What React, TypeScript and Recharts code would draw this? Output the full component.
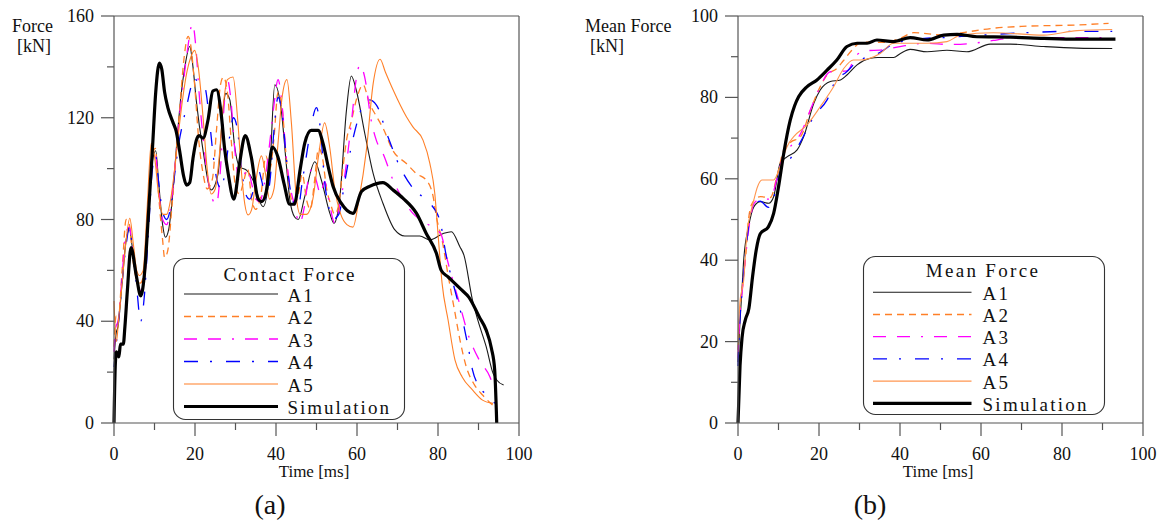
import React from 'react';
import { LineChart, Line, XAxis, YAxis, ReferenceLine } from 'recharts';

type P = [number, number];

// ---------- tick values ----------
const timeTicks = [0, 10, 20, 30, 40, 50, 60, 70, 80, 90, 100];
const forceTicks = [0, 20, 40, 60, 80, 100, 120, 140, 160];
const meanTicks = [0, 10, 20, 30, 40, 50, 60, 70, 80, 90, 100];
const seriesNames = ['A1', 'A2', 'A3', 'A4', 'A5', 'Simulation'];

// ---------- (a) contact force [time ms, force kN] ----------
const forceA1: P[] = [[0,25],[0.5,35],[1,38],[2,55],[3,72],[3.8,76],[4.6,68],[5.5,57],[6.5,52],[7.5,56],[8.5,80],[9.5,103],[10.3,107],[11,95],[12,78],[12.7,73],[13.5,76],[14.5,90],[15.5,110],[16.5,128],[17.5,140],[18.7,148],[19.5,140],[20.3,127],[22,107],[24,91.6],[25.7,98],[26.9,123],[27.6,129.6],[28.6,127],[29.8,108.6],[31,100.7],[32.7,99.4],[34.3,95.5],[36.8,85],[38.4,98],[39.7,133],[41.3,123],[42.6,100.7],[43.4,88],[44.6,81],[45.5,80],[47.1,89],[49.6,102.7],[51.2,95.5],[53.3,82.4],[54.3,78.5],[55.7,87.7],[57.4,123],[58.6,136.4],[59.8,131],[61.9,114],[64,98],[66.4,86.4],[69.3,76],[71.8,73.5],[75.5,73.5],[78,72],[81.3,74.5],[83.3,75.2],[85.4,69.3],[86.4,66],[88.5,48.4],[89.8,40.6],[91.9,30],[93.6,19.5],[94.5,16.9],[96.2,14.9]];
const forceA2: P[] = [[0,30],[0.5,42],[1,40],[2,60],[3,80],[3.8,78],[4.6,65],[5.5,57],[6.5,55],[7.5,60],[8.5,85],[9.5,105],[10.2,108],[11,90],[12,72],[12.5,65],[13.3,68],[14.3,85],[15.3,105],[16.3,125],[17.2,142],[18.3,152],[19,148],[19.8,135],[21,110],[22,98],[23,92],[24.3,96],[25.3,115],[26.3,133],[27,136],[28,130],[29,110],[30,93],[31,90],[32,95],[33,100],[34,88],[35,84],[36.3,90],[37.5,105],[38.5,100],[39.5,112],[40.5,130],[41.5,124],[42.5,105],[43.5,90],[44.5,86],[45.5,90],[46.5,98],[47.5,88],[48.5,84],[49.5,95],[50.5,108],[51.5,104],[52.5,92],[53.5,86],[54.5,82],[55.5,86],[56.5,100],[57.5,112],[58.5,118],[60,128],[61.5,133],[63,126],[65,120],[66.4,116],[68.9,107],[72.2,102],[74.7,98],[77.1,95.5],[78.8,89],[79.6,81],[81,72],[82.5,58],[84,45],[85.5,32],[87,22],[89,15],[91,11],[93.5,7]];
const forceA3: P[] = [[0,28],[0.5,38],[1,40],[2,58],[3,75],[3.8,77],[4.6,68],[5.5,57],[6.5,52],[7.5,56],[8.5,80],[9.5,103],[10.3,105],[11,92],[12,80],[13,78],[14,85],[15,100],[16,118],[17,132],[18,145],[19.4,157],[20.2,148],[21,130],[22,112],[23,98],[24.3,88],[25.3,86],[26.3,100],[27.2,125],[28,135],[28.8,128],[29.8,108],[31,95],[32,97],[33,100],[34,94],[35,88],[36,87],[37,93],[38.3,108],[39.5,125],[40.5,135],[41.5,125],[42.5,105],[43.5,93],[44.5,86],[45.8,78.5],[47,85],[48,96],[49,100],[50,95],[51,90],[52,95],[53,88],[54.5,78.5],[56,88],[57.4,102],[58.6,118],[59.8,135],[60.7,140.8],[61.9,136],[63.5,119],[64.8,111],[66.4,106],[68.9,95.5],[70.5,90.3],[73.8,82.4],[77.1,78.5],[79.6,76],[80.8,74],[82,66],[83.5,57],[85.1,48.2],[87.6,34],[90.2,24.7],[92.8,18.2],[94,13]];
const forceA4: P[] = [[0,22],[0.5,30],[1,38],[2,55],[3,70],[3.8,77],[4.6,68],[5.5,55],[6.6,40],[7.5,50],[8.5,75],[9.5,100],[10.3,105],[11,95],[12,83],[13,80],[14,85],[15,98],[16,110],[17,118],[18,125],[19,132],[19.9,135.5],[21,133],[22.4,132],[23.5,120],[24.5,105],[25.5,95],[26.5,92],[27.5,100],[28.5,112],[29.5,120],[30.5,115],[31.5,100],[32.5,90],[33.5,88],[34.5,92],[35.5,100],[36.5,95],[37.5,88],[38.5,95],[39.5,115],[40.5,128],[41.5,122],[42.5,105],[43.5,92],[44.5,86],[45.5,85],[46.5,95],[47.5,105],[48.5,115],[50,124],[51,115],[52,95],[53,85],[54,80],[55.5,82],[57,95],[58.5,108],[60,118],[61.5,125],[63,127],[64.8,125],[67.3,114],[70.6,100.7],[74.2,91.6],[77.1,87.7],[80.4,80],[82,66],[84.2,52],[85.9,41.7],[87.6,28.6],[88.5,21],[90.2,14.2],[92.8,10.3],[94,7.7]];
const forceA5: P[] = [[0,48],[0.6,32],[1.2,42],[2,55],[3,72],[3.9,80.5],[4.8,70],[5.6,60],[6.3,58],[7.2,60],[8.2,85],[9.2,110],[10,105],[11,90],[12.1,82],[13,82],[14,88],[15,100],[16,115],[17,128],[18,138],[19,144],[19.9,146.5],[20.8,140],[22,120],[23,100],[24,90],[25,92],[26,105],[27,125],[28,135],[29.4,136],[30.5,120],[31.5,98],[32.3,86],[33.1,81.8],[34,84],[35,95],[36.4,105],[37.4,98],[38.4,88],[39.5,92],[40.5,110],[41.5,128],[42.7,135],[43.8,118],[45,89],[46,82],[47.5,82],[49.1,88],[50.5,105],[52,118],[53.3,108],[54.5,92],[56,82],[57.5,78],[59,77],[60.5,88],[62.3,107],[64,133.5],[65.7,143],[67,138],[68.9,131],[72.2,120.4],[73.8,116.4],[76.3,111.2],[78,102],[79.2,90.3],[80,74.5],[81,55],[82.5,40.4],[84.2,24.7],[86,18],[88.5,13],[91,9],[93.6,7.7]];
const forceSim: P[] = [[0,0],[0.3,22],[0.6,28],[1.2,26],[1.6,31],[2.3,31],[2.7,38],[3.3,52],[4.2,69],[5.5,58],[6.6,50],[7.6,60],[8.5,82],[9.5,108],[10.3,130],[11.2,141.5],[11.8,139],[12.5,130],[13.3,124],[14.6,118],[15.3,115],[16.2,107],[17.2,97],[17.9,93.5],[18.7,94.5],[19.5,104],[20.3,111],[21,113],[22,112],[23.2,119],[24.4,130.5],[25.3,131],[26.5,121],[27.3,108],[28.2,98],[29.6,88],[31,102],[32.4,113],[33.9,104.5],[35.6,88],[36.5,87],[37.6,91],[39.1,108.5],[40.5,104.5],[42,94],[43.4,86],[44.5,86],[46,100],[47.1,110],[48.7,115],[50.4,115],[51.6,110],[53,100],[54.1,93],[56.1,86.4],[59,82.4],[61.1,91],[63.1,93],[66.4,94.5],[68.9,91.6],[71.4,88.3],[74.7,82.4],[77.1,74.5],[79.6,66.7],[80.8,60],[82.5,57.4],[85.9,52.2],[87.6,49.5],[90.2,41.7],[91.9,36.5],[93.2,29.3],[94,20.8],[94.4,5],[94.5,0]];

// ---------- (b) mean force [time ms, force kN] ----------
const meanA1: P[] = [[0,15],[0.5,25],[1,33],[1.4,40],[2.6,48.2],[3.9,53.1],[5.5,54.4],[7.6,54],[8.8,55.6],[10.4,63.8],[12.1,65.4],[14.6,67.1],[16.2,70.3],[18.7,78.5],[20.3,81.8],[22.8,83.9],[25.3,84.3],[26.9,85.5],[29.4,88],[32.7,89.6],[34.5,89.8],[38.4,89.8],[40.1,90.8],[42.5,91.8],[46.7,91.2],[51.6,91.6],[56.5,91.2],[62.3,93.1],[67.2,93.1],[75.5,92.5],[83.7,92.1],[92.4,92]];
const meanA2: P[] = [[0,18],[0.5,28],[1,33],[2,42],[2.6,50],[3.5,54],[5.5,55.6],[8,55.4],[9.6,60.5],[11.3,67.1],[13,69],[15.4,70.3],[17.9,76.9],[19.9,81.8],[22,85.5],[24.4,87.1],[26,89],[28.1,91.6],[30.2,93.4],[32.7,93.6],[36,93.5],[40,94.5],[43.4,95.9],[50.8,95.3],[56,96],[63.1,97],[71.4,97.5],[83.7,97.8],[91.5,98.2]];
const meanA3: P[] = [[0,16],[0.5,27],[1,32],[2,42],[3,50],[4,54],[5.5,55],[8,55],[9.6,60],[11.3,66],[13,68],[15.4,71],[17.9,77],[20,82],[22.8,86.3],[26.9,86.5],[29.4,90.5],[32,91.5],[35.1,91.6],[40,92.5],[46.7,93.3],[52,93],[59,93.4],[63,94],[67.2,94.5],[79.6,94.7],[92.4,94.7]];
const meanA4: P[] = [[0,14],[0.5,26],[1,32],[2,43],[3,51],[4,54],[5.5,54.5],[7.5,53],[9,56],[10.5,62],[12.1,63.8],[15.4,69],[18.7,75.3],[22,79.4],[24.4,84.7],[26.5,86],[29.4,88.8],[32,90],[35,91],[38.4,93.2],[42,94],[46,94.5],[50.8,94.7],[60,95.3],[71.4,95.9],[80,96.2],[92.4,96.2]];
const meanA5: P[] = [[0,20],[0.5,30],[1.4,35],[2.2,46.6],[3.2,52],[3.9,54.8],[4.8,58],[5.9,59.7],[8.8,59.7],[10.4,63],[12.1,67.9],[13.7,70.3],[17,73.2],[20.3,77.7],[23.6,82.6],[26.1,87.1],[28.5,89.2],[30.2,89.2],[35.1,90.8],[38.4,93.3],[46.7,93.3],[51.6,93.7],[54.9,95.3],[63.1,95.9],[75.5,95.3],[83.7,96.4],[92.4,96.7]];
const meanSim: P[] = [[0,0],[0.5,14],[1,21],[1.8,25.3],[2.7,28.2],[3.6,36],[4.5,42.5],[5.5,46.5],[7.5,48.2],[8.8,51.5],[10,58],[11.3,66.3],[12.9,74.4],[14,78],[15,80.2],[17,82.6],[19.5,84.3],[22,86.7],[24.4,89.2],[26.9,92.5],[29.4,93.3],[31.9,93.3],[34.3,94.1],[38.4,93.7],[42.5,94.7],[46.7,94.1],[50.8,95.3],[54.1,95.5],[59,94.9],[67.2,94.8],[75.5,94.5],[83.7,94.3],[93.2,94.3]];

const FONT = "Liberation Serif";
const AXIS = '#555';

type Sty = { stroke: string; width: number; dash?: string };
const stylesA: Sty[] = [
  { stroke: '#1a1a1a', width: 1.1 },
  { stroke: '#ff7f27', width: 1.3, dash: '7 5' },
  { stroke: '#ff00ff', width: 1.3, dash: '13 11 13 11 2 11' },
  { stroke: '#0000ff', width: 1.3, dash: '14 12 2 14' },
  { stroke: '#ff7f27', width: 1.1 },
  { stroke: '#000000', width: 3.2 },
];
const stylesB: Sty[] = stylesA.map((s, i) => (i === 4 ? { ...s, stroke: '#ff9650' } : s));

const rows = (pts: P[]) => pts.map(([t, f]) => ({ t, f }));

const makeYTick = (majorStep: number) => (props: any) => {
  const { x, y, payload } = props;
  const v = payload.value;
  const major = v % majorStep === 0;
  return (
    <g>
      <line x1={x - (major ? 13 : 7)} x2={x} y1={y} y2={y} stroke={AXIS} strokeWidth={1.2} />
      {major && (
        <text x={x - 20} y={y + 6} textAnchor="end" style={{ fontFamily: FONT }} fontSize={18} fill="#111">
          {v}
        </text>
      )}
    </g>
  );
};

const XTick = (props: any) => {
  const { x, y, payload } = props;
  const v = payload.value;
  const major = v % 20 === 0;
  return (
    <g>
      <line x1={x} x2={x} y1={y} y2={y + (major ? 13 : 7)} stroke={AXIS} strokeWidth={1.2} />
      {major && (
        <text x={x} y={y + 37} textAnchor="middle" style={{ fontFamily: FONT }} fontSize={18} fill="#111">
          {v}
        </text>
      )}
    </g>
  );
};

type PanelProps = {
  series: P[][];
  styles: Sty[];
  yMax: number;
  yTicks: number[];
  yMajor: number;
  width: number;
  yAxisWidth: number;
  right: number;
};

const Panel = ({ series, styles, yMax, yTicks, yMajor, width, yAxisWidth, right }: PanelProps) => (
  <LineChart width={width} height={520} margin={{ top: 16, right, bottom: 57, left: 0 }}>
    <XAxis
      dataKey="t"
      type="number"
      domain={[0, 100]}
      ticks={timeTicks}
      interval={0}
      tickSize={0}
      tickMargin={0}
      tickLine={false}
      tick={XTick}
      axisLine={{ stroke: AXIS, strokeWidth: 1.2 }}
      height={40}
    />
    <YAxis
      type="number"
      domain={[0, yMax]}
      ticks={yTicks}
      interval={0}
      tickSize={0}
      tickMargin={0}
      tickLine={false}
      tick={makeYTick(yMajor)}
      axisLine={{ stroke: AXIS, strokeWidth: 1.2 }}
      width={yAxisWidth}
    />
    <ReferenceLine y={yMax} stroke={AXIS} strokeWidth={1.2} />
    <ReferenceLine x={100} stroke={AXIS} strokeWidth={1.2} />
    {series.map((pts, i) => (
      <Line
        key={seriesNames[i]}
        name={seriesNames[i]}
        data={rows(pts)}
        dataKey="f"
        type="monotone"
        stroke={styles[i].stroke}
        strokeWidth={styles[i].width}
        strokeDasharray={styles[i].dash}
        dot={false}
        activeDot={false}
        isAnimationActive={false}
      />
    ))}
  </LineChart>
);

type LegendProps = {
  x: number; y: number; w: number; h: number; title: string; titleX: number; titleY: number;
  lineX1: number; lineX2: number; textX: number; rowY: number; rowStep: number; styles: Sty[]; spacing: number;
};

const LegendBox = ({ x, y, w, h, title, titleX, titleY, lineX1, lineX2, textX, rowY, rowStep, styles, spacing }: LegendProps) => (
  <g transform={`translate(${x},${y})`}>
    <rect x={0.5} y={0.5} width={w} height={h} rx={12} ry={12} fill="#fff" stroke="#333" strokeWidth={1.1} />
    <text x={titleX} y={titleY} textAnchor="middle" style={{ fontFamily: FONT, letterSpacing: spacing }} fontSize={19} fill="#111">
      {title}
    </text>
    {seriesNames.map((n, i) => {
      const ly = rowY + i * rowStep;
      return (
        <g key={n}>
          <line x1={lineX1} x2={lineX2} y1={ly} y2={ly} stroke={styles[i].stroke} strokeWidth={styles[i].width} strokeDasharray={styles[i].dash} />
          <text x={textX} y={ly + 7.5} style={{ fontFamily: FONT, letterSpacing: spacing }} fontSize={19} fill="#111">
            {n}
          </text>
        </g>
      );
    })}
  </g>
);

export default function App() {
  return (
    <div style={{ position: 'absolute', left: 0, top: 0, width: 1160, height: 520, background: '#fff' }}>
      <div style={{ position: 'absolute', left: 0, top: 0 }}>
        <Panel
          series={[forceA1, forceA2, forceA3, forceA4, forceA5, forceSim]}
          styles={stylesA}
          yMax={160}
          yTicks={forceTicks}
          yMajor={40}
          width={540}
          yAxisWidth={114}
          right={21}
        />
      </div>
      <div style={{ position: 'absolute', left: 580, top: 0 }}>
        <Panel
          series={[meanA1, meanA2, meanA3, meanA4, meanA5, meanSim]}
          styles={stylesB}
          yMax={100}
          yTicks={meanTicks}
          yMajor={20}
          width={580}
          yAxisWidth={158}
          right={17}
        />
      </div>
      <svg width={1160} height={520} style={{ position: 'absolute', left: 0, top: 0, pointerEvents: 'none', fontFamily: FONT }}>
        <g fill="#111">
          <text x={12} y={31.5} fontSize={18}>Force</text>
          <text x={17} y={52} fontSize={18}>[kN]</text>
          <text x={585} y={31.5} fontSize={18}>Mean Force</text>
          <text x={590} y={52} fontSize={18}>[kN]</text>
          <text x={314} y={477} fontSize={17} textAnchor="middle">Time [ms]</text>
          <text x={938} y={477} fontSize={17} textAnchor="middle">Time [ms]</text>
          <text x={270} y={514} fontSize={28} textAnchor="middle">(a)</text>
          <text x={870} y={514} fontSize={28} textAnchor="middle">(b)</text>
        </g>
        <LegendBox
          x={173} y={258} w={231} h={161} title="Contact Force" titleX={117} titleY={23.4}
          lineX1={11} lineX2={105} textX={114.5} rowY={36} rowStep={22.5} styles={stylesA} spacing={2}
        />
        <LegendBox
          x={863} y={256} w={241} h={158} title="Mean Force" titleX={120} titleY={21.3}
          lineX1={10} lineX2={108.5} textX={119.5} rowY={36.3} rowStep={22.2} styles={stylesB} spacing={2.3}
        />
      </svg>
    </div>
  );
}
